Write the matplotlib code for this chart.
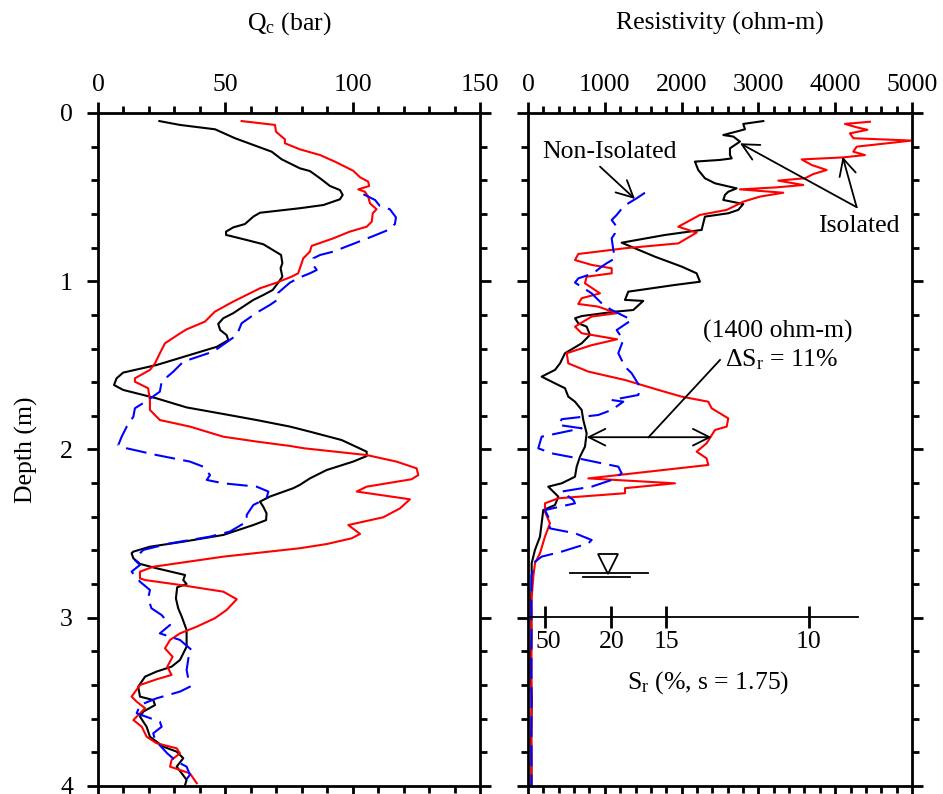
import numpy as np
import matplotlib
matplotlib.use("Agg")
import matplotlib.pyplot as plt

plt.rcParams['font.family'] = ['Liberation Serif', 'DejaVu Serif']
plt.rcParams['mathtext.fontset'] = 'custom'
plt.rcParams['mathtext.rm'] = 'Liberation Serif'
plt.rcParams['mathtext.it'] = 'Liberation Serif:italic'
plt.rcParams['font.size'] = 18.5

# ---- Cone resistance (bar) vs depth (m) ----
qc_black = [(0.048, 24.1), (0.071, 32.2), (0.097, 46), (0.150, 53.8), (0.23, 68.2), (0.275, 72.1),
            (0.329, 79.3), (0.345, 83.2), (0.388, 87.2), (0.434, 91.1), (0.458, 95), (0.487, 96.1),
            (0.513, 95), (0.547, 88.5), (0.566, 79.3), (0.593, 63.6), (0.616, 61), (0.66, 57.7),
            (0.68, 53.1), (0.705, 50.3), (0.725, 50.3), (0.735, 53.1), (0.755, 58.4), (0.78, 64.9),
            (0.81, 68.2), (0.844, 71.9), (0.893, 72.4), (0.923, 71.7), (0.973, 72.4), (1.008, 70.8),
            (1.052, 68.6), (1.082, 64.9), (1.111, 61), (1.151, 57), (1.19, 53.1), (1.22, 49.2),
            (1.254, 47.2), (1.29, 48.0), (1.32, 50.5), (1.35, 51.2), (1.39, 46.6), (1.438, 36.1),
            (1.498, 23), (1.543, 9.9), (1.577, 7.3), (1.617, 6.3), (1.646, 9.9), (1.696, 23),
            (1.75, 34.8), (1.789, 49.2), (1.825, 62.3), (1.864, 75.4), (1.894, 83.2), (1.944, 95.7),
            (2.013, 105.5), (2.039, 105.5), (2.072, 100.2), (2.122, 89.8), (2.172, 83.2), (2.21, 79.3),
            (2.23, 76.7), (2.28, 67.5), (2.31, 63.6), (2.34, 64.9), (2.38, 66.2), (2.42, 66),
            (2.449, 61), (2.508, 49.2), (2.548, 33.5), (2.578, 20.4), (2.607, 13.9), (2.617, 13.2),
            (2.647, 13.9), (2.68, 16.5), (2.706, 23), (2.746, 34.2), (2.776, 33.5), (2.8, 34.8),
            (2.819, 31.1), (2.885, 30.6), (2.944, 31.5), (2.994, 32.9), (3.073, 34.8), (3.172, 34.8),
            (3.251, 32.2), (3.291, 28.9), (3.32, 23), (3.35, 18.5), (3.41, 15.8), (3.469, 16.5),
            (3.489, 21.7), (3.519, 22.4), (3.558, 17.8), (3.588, 16.5), (3.648, 19.1), (3.707, 20.4),
            (3.766, 25.6), (3.796, 30.9), (3.835, 33.5), (3.885, 30.9), (3.925, 32.9), (3.964, 34.8),
            (3.994, 34.2)]

qc_red = [(0.048, 56.4), (0.071, 69.5), (0.111, 69.9), (0.14, 72.1), (0.156, 73.4), (0.18, 73.4),
          (0.216, 79.3), (0.25, 87.2), (0.289, 93), (0.343, 100.2), (0.382, 102.9), (0.408, 106.1),
          (0.434, 106.5), (0.454, 102.2), (0.468, 104.8), (0.497, 106.1), (0.537, 106.8), (0.572, 109.4),
          (0.596, 107.9), (0.646, 107.5), (0.676, 105.5), (0.705, 98.9), (0.745, 92.4), (0.79, 83.9),
          (0.824, 83.2), (0.864, 80.6), (0.953, 78.6), (0.973, 76), (1.008, 70.2), (1.042, 63.6),
          (1.121, 53.1), (1.181, 45.9), (1.24, 42), (1.286, 34.8), (1.31, 32.2), (1.369, 26.3),
          (1.428, 24.3), (1.488, 22.4), (1.527, 20.4), (1.577, 14.5), (1.597, 14.5), (1.636, 19.7),
          (1.706, 20.4), (1.765, 20.4), (1.825, 24.3), (1.864, 36.1), (1.924, 49.2), (1.953, 62.3),
          (1.979, 75.4), (1.993, 81), (2.033, 105.5), (2.072, 117.2), (2.112, 125.1), (2.152, 125.8),
          (2.177, 123.1), (2.221, 105.5), (2.25, 101.6), (2.296, 122.5), (2.35, 118.6), (2.403, 112),
          (2.449, 98.3), (2.502, 102.9), (2.528, 99.6), (2.562, 89.8), (2.587, 79.3), (2.637, 49.2),
          (2.697, 21.7), (2.726, 16.5), (2.766, 16.5), (2.776, 18.5), (2.805, 32.2), (2.845, 49.2),
          (2.89, 54.5), (2.954, 50.5), (3.003, 45.9), (3.053, 38.8), (3.093, 32.2), (3.132, 28.3),
          (3.182, 26.3), (3.232, 29.3), (3.291, 27.2), (3.34, 28.9), (3.366, 23), (3.4, 16.5),
          (3.469, 13.2), (3.499, 15.2), (3.538, 18.5), (3.608, 13.9), (3.648, 17.2), (3.707, 19.1),
          (3.746, 23), (3.776, 30.9), (3.806, 32.2), (3.845, 28.9), (3.885, 28.3), (3.925, 36.1),
          (3.984, 38.8)]

qc_blue = [(0.483, 104.2), (0.517, 108.8), (0.553, 110.7), (0.572, 114.6), (0.62, 117), (0.66, 116.6),
           (0.695, 114), (0.735, 107.5), (0.824, 92.4), (0.844, 87.2), (0.864, 84.5), (0.903, 84.5),
           (0.933, 85.9), (0.953, 83.2), (0.977, 79.3), (1.008, 75.4), (1.068, 70.8), (1.107, 70.8),
           (1.141, 67.5), (1.187, 62.3), (1.25, 56.4), (1.32, 54.5), (1.418, 45.3), (1.478, 33.5),
           (1.537, 29.6), (1.597, 25), (1.656, 24.3), (1.706, 19.7), (1.755, 14.5), (1.805, 13.9),
           (1.864, 11.3), (1.924, 9.3), (1.973, 8), (1.993, 11.3), (2.033, 23), (2.072, 36.1),
           (2.102, 41.3), (2.152, 44), (2.181, 42.7), (2.201, 49.2), (2.221, 62.3), (2.25, 66.9),
           (2.29, 66.2), (2.33, 61), (2.389, 58.4), (2.429, 58.4), (2.488, 51.8), (2.518, 44),
           (2.558, 28.3), (2.597, 17.8), (2.617, 16.5), (2.657, 14.5), (2.686, 16.5), (2.726, 13.2),
           (2.786, 16.5), (2.835, 20.4), (2.885, 19.7), (2.944, 21), (2.984, 25), (3.043, 28.3),
           (3.093, 24.3), (3.132, 32.2), (3.192, 36.8), (3.241, 35.5), (3.311, 34.8), (3.41, 36.1),
           (3.439, 32.2), (3.479, 23), (3.519, 16.5), (3.568, 15.2), (3.618, 24.3), (3.648, 25),
           (3.687, 21.7), (3.727, 22.4), (3.806, 27.2), (3.855, 30.9), (3.885, 34.8), (3.934, 36.1),
           (3.984, 33.5)]

# ---- Resistivity (ohm-m) vs depth (m) ----
res_black = [(0.048, 3064), (0.065, 2803), (0.097, 2825), (0.131, 2543), (0.14, 2673), (0.17, 2760),
             (0.21, 2630), (0.25, 2630), (0.27, 2652), (0.279, 2500), (0.289, 2174), (0.339, 2217),
             (0.388, 2304), (0.418, 2435), (0.448, 2717), (0.468, 2608), (0.487, 2565), (0.517, 2543),
             (0.541, 2803), (0.576, 2738), (0.596, 2608), (0.616, 2304), (0.695, 2261), (0.725, 1784),
             (0.771, 1220), (0.854, 1653), (0.913, 2001), (0.953, 2196), (1.003, 2239), (1.022, 1914),
             (1.062, 1306), (1.111, 1263), (1.117, 1501), (1.171, 1371), (1.181, 1133), (1.207, 699),
             (1.22, 612), (1.25, 655), (1.27, 764), (1.319, 807), (1.369, 699), (1.428, 482),
             (1.488, 417), (1.527, 352), (1.567, 178), (1.607, 352), (1.636, 482), (1.686, 525),
             (1.716, 612), (1.765, 699), (1.825, 720), (1.904, 764), (1.983, 742), (2.043, 677),
             (2.102, 634), (2.162, 612), (2.201, 439), (2.221, 264), (2.28, 395), (2.33, 352),
             (2.36, 199), (2.439, 178), (2.518, 156), (2.597, 91), (2.676, 48), (2.776, 48),
             (2.9, 40), (3.1, 45), (3.3, 35), (3.5, 50), (3.7, 40), (3.9, 45), (4.0, 45)]

res_red = [(0.052, 4453), (0.065, 4127), (0.085, 4280), (0.10, 4420), (0.121, 4192), (0.15, 4236),
           (0.164, 4996), (0.2, 4280), (0.23, 4236), (0.25, 4388), (0.264, 4105), (0.276, 3564),
           (0.309, 3694), (0.339, 3889), (0.363, 3715), (0.388, 3607), (0.402, 3259), (0.428, 3585),
           (0.442, 3238), (0.454, 2760), (0.474, 3324), (0.497, 3021), (0.527, 2803), (0.557, 2673),
           (0.576, 2587), (0.606, 2239), (0.676, 1957), (0.711, 2196), (0.775, 1957), (0.804, 1263),
           (0.838, 655), (0.874, 612), (0.903, 829), (0.923, 1090), (0.953, 1090), (0.973, 764),
           (1.012, 742), (1.072, 937), (1.101, 699), (1.135, 655), (1.151, 915), (1.19, 1155),
           (1.21, 829), (1.27, 612), (1.309, 699), (1.345, 1160), (1.38, 829), (1.428, 504),
           (1.488, 525), (1.537, 785), (1.587, 1263), (1.646, 1697), (1.686, 2001), (1.716, 2348),
           (1.755, 2391), (1.815, 2608), (1.864, 2587), (1.884, 2435), (1.963, 2326), (2.013, 2196),
           (2.053, 2326), (2.092, 2348), (2.112, 1957), (2.172, 785), (2.201, 1914), (2.23, 1263),
           (2.26, 1263), (2.29, 395), (2.32, 221), (2.37, 221), (2.439, 286), (2.518, 221),
           (2.617, 156), (2.676, 91), (2.756, 69), (2.9, 45), (4.0, 45)]

res_blue = [(0.474, 1523), (0.507, 1415), (0.537, 1306), (0.557, 1241), (0.606, 1155), (0.636, 1090),
            (0.676, 1155), (0.715, 1133), (0.745, 1090), (0.814, 1111), (0.864, 1133), (0.893, 1025),
            (0.913, 960), (0.953, 850), (0.983, 655), (1.008, 612), (1.072, 829), (1.092, 872),
            (1.141, 981), (1.171, 1090), (1.23, 1350), (1.29, 1155), (1.349, 1241), (1.428, 1176),
            (1.508, 1263), (1.547, 1350), (1.627, 1458), (1.676, 1437), (1.706, 1090), (1.716, 1241),
            (1.765, 1090), (1.795, 915), (1.82, 439), (1.854, 395), (1.874, 699), (1.924, 178),
            (1.993, 134), (2.023, 308), (2.053, 655), (2.082, 960), (2.102, 1176), (2.142, 1220),
            (2.181, 1090), (2.221, 829), (2.25, 439), (2.3, 590), (2.32, 612), (2.36, 221),
            (2.4, 264), (2.469, 286), (2.498, 612), (2.538, 829), (2.558, 785), (2.607, 439),
            (2.637, 178), (2.667, 91), (2.75, 45), (4.0, 45)]

# saturation scale drawn along depth = 3 m (Archie, s = 1.75)
sr_ticks = [50, 20, 15, 10]
sr_r100 = 65.0
sr_exp = 1.75


def unpack(pairs):
    arr = np.array(pairs)
    return arr[:, 1], arr[:, 0]


fig = plt.figure(figsize=(9.43, 7.94), dpi=100)
ax1 = fig.add_axes([0.1039, 0.0101, 0.4051, 0.8476])
ax2 = fig.add_axes([0.5599, 0.0101, 0.4072, 0.8476])

lw = 1.5
for ax in (ax1, ax2):
    ax.set_ylim(4, 0)
    ax.xaxis.tick_top()
    ax.xaxis.set_label_position('top')
    ax.set_yticks([0, 1, 2, 3, 4])
    ax.set_yticks(np.arange(0, 4.01, 0.2), minor=True)
    ax.tick_params(axis='both', which='both', direction='out', top=True, bottom=True,
                   left=True, right=True, labelbottom=False, width=2)
    ax.tick_params(which='major', length=8)
    ax.tick_params(which='minor', length=5)
    ax.tick_params(axis='x', pad=4)
    ax.tick_params(axis='y', pad=10)
    for s in ax.spines.values():
        s.set_linewidth(2)

# left panel
ax1.set_xlim(0, 150)
ax1.set_xticks([0, 50, 100, 150])
ax1.set_xticks(np.arange(0, 151, 10), minor=True)
x, y = unpack(qc_black)
ax1.plot(x, y, color='black', lw=lw)
x, y = unpack(qc_red)
ax1.plot(x, y, color='red', lw=lw)
x, y = unpack(qc_blue)
ax1.plot(x, y, color='blue', lw=lw, dashes=(10, 4))
ax1.set_xlabel(r'Q$_\mathrm{c}$ (bar)', labelpad=32)
ax1.set_ylabel('Depth (m)', labelpad=16)

# right panel
ax2.set_xlim(0, 5000)
ax2.set_xticks(np.arange(0, 5001, 1000))
ax2.set_xticks(np.arange(0, 5001, 200), minor=True)
ax2.tick_params(axis='y', labelleft=False)
x, y = unpack(res_black)
ax2.plot(x, y, color='black', lw=lw)
x, y = unpack(res_red)
ax2.plot(x, y, color='red', lw=lw)
x, y = unpack(res_blue)
ax2.plot(x, y, color='blue', lw=lw, dashes=(10, 4))
ax2.set_xlabel('Resistivity (ohm-m)', labelpad=32)

# annotations
arr = dict(arrowstyle='->', lw=1.3, color='black', mutation_scale=30, shrinkA=0, shrinkB=0)
ax2.text(1068, 0.23, 'Non-Isolated', ha='center', va='center')
ax2.annotate('', xy=(1393, 0.511), xytext=(938, 0.319), arrowprops=arr)
ax2.text(4310, 0.67, 'Isolated', ha='center', va='center')
ax2.annotate('', xy=(2760, 0.18), xytext=(4280, 0.56), arrowprops=arr)
ax2.annotate('', xy=(4097, 0.26), xytext=(4280, 0.56), arrowprops=arr)

ax2.text(3255, 1.296, '(1400 ohm-m)', ha='center', va='center')
ax2.text(3307, 1.468, r'ΔS$_\mathrm{r}$ = 11%', ha='center', va='center')
ax2.annotate('', xy=(764, 1.927), xytext=(2391, 1.927),
             arrowprops=dict(arrowstyle='<->', lw=1.3, color='black', mutation_scale=30,
                             shrinkA=0, shrinkB=0))
ax2.plot([2500, 1570], [1.468, 1.927], color='black', lw=1.3)

# water table symbol
ax2.plot([1046], [2.683], marker='v', ms=14, mfc='white', mec='black', mew=1.3)
ax2.plot([547, 1566], [2.732, 2.732], color='black', lw=1.3)
ax2.plot([716, 1328], [2.76, 2.76], color='black', lw=1.3)

# saturation scale
ax2.plot([0, 4300], [2.993, 2.993], color='black', lw=1.3)
sr_pos = [sr_r100 * (100.0 / s) ** sr_exp for s in sr_ticks]
ax2.plot(sr_pos, [2.993] * len(sr_pos), ls='none', marker='|', ms=16, mew=2, color='black')
for s, r in zip(sr_ticks, sr_pos):
    ax2.text(r + (50 if s == 50 else 0), 3.142, str(s), ha='center', va='center')
ax2.text(2344, 3.388, r'S$_\mathrm{r}$ (%, s = 1.75)', ha='center', va='center')

fig.savefig('out.png', dpi=100)
